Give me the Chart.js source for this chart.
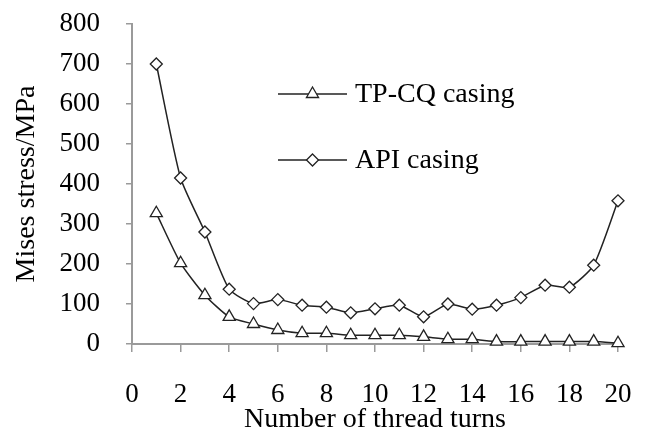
<!DOCTYPE html>
<html>
<head>
<meta charset="utf-8">
<script src="https://cdn.jsdelivr.net/npm/chart.js@4/dist/chart.umd.min.js"></script>
<style>
html,body{margin:0;padding:0;background:#fff;}
#wrap{width:645px;height:436px;position:relative;}
</style>
</head>
<body>
<div id="wrap"><canvas id="c" width="645" height="436"></canvas></div>
<script>
const turns = [1,2,3,4,5,6,7,8,9,10,11,12,13,14,15,16,17,18,19,20];
const tpcqStress = [327,202,122,68,50,35,27,27,22,22,22,18,12,12,6,6,6,6,6,2];
const apiStress = [700,415,280,137,101,111,97,92,78,88,97,68,100,87,97,116,147,142,197,358];
const seriesLabels = ['TP-CQ casing','API casing'];
const xTitle = 'Number of thread turns';
const yTitle = 'Mises stress/MPa';

const FONT = "'Liberation Serif','Times New Roman',serif";
const LINE = '#222';
const AXIS = '#9a9a9a';

const legendPlugin = {
  id: 'insideLegend',
  afterDatasetsDraw(chart, args, opts) {
    const ctx = chart.ctx;
    ctx.save();
    chart.data.datasets.forEach((ds, i) => {
      const y = opts.y[i];
      ctx.strokeStyle = LINE;
      ctx.lineWidth = 1.5;
      ctx.beginPath();
      ctx.moveTo(opts.x1, y); ctx.lineTo(opts.x2, y); ctx.stroke();
      const cx = (opts.x1 + opts.x2) / 2;
      ctx.fillStyle = '#fff';
      ctx.lineWidth = 1.3;
      ctx.beginPath();
      if (ds.pointStyle === 'triangle') {
        const r = ds.pointRadius, e = 3 * r / Math.sqrt(3), h = e * Math.sqrt(3) / 2;
        ctx.moveTo(cx - e / 2, y + h / 3);
        ctx.lineTo(cx + e / 2, y + h / 3);
        ctx.lineTo(cx, y - 2 * h / 3);
      } else {
        const r = ds.pointRadius;
        ctx.moveTo(cx, y - r); ctx.lineTo(cx + r, y); ctx.lineTo(cx, y + r); ctx.lineTo(cx - r, y);
      }
      ctx.closePath(); ctx.fill(); ctx.stroke();
      ctx.fillStyle = '#000';
      ctx.font = '28px ' + FONT;
      ctx.textBaseline = 'middle';
      ctx.textAlign = 'left';
      ctx.fillText(ds.label, opts.tx, y + 1);
    });
    ctx.restore();
  }
};

function mk(label, data, style, r) {
  return {
    label, data: turns.map((t, i) => ({x: t, y: data[i]})),
    borderColor: LINE, borderWidth: 1.5, tension: 0.2, clip: false,
    pointStyle: style, pointRadius: r, pointBorderWidth: 1.3,
    pointBackgroundColor: '#fff', pointBorderColor: LINE, fill: false
  };
}

new Chart(document.getElementById('c'), {
  type: 'line',
  data: { datasets: [mk(seriesLabels[0], tpcqStress, 'triangle', 7), mk(seriesLabels[1], apiStress, 'rectRot', 6)] },
  options: {
    responsive: false, animation: false, devicePixelRatio: 1,
    layout: { padding: { top: 24, right: 27, bottom: 0, left: 10 } },
    plugins: {
      legend: { display: false }, tooltip: { enabled: false },
      insideLegend: { x1: 278, x2: 347, tx: 355, y: [94, 160] }
    },
    scales: {
      x: {
        type: 'linear', min: 0, max: 20,
        ticks: { stepSize: 2, color: '#000', font: { family: FONT, size: 27 }, padding: 27, maxRotation: 0 },
        grid: { display: true, drawOnChartArea: false, drawTicks: true, tickLength: 8, color: AXIS, lineWidth: 1.5 },
        border: { display: true, color: AXIS, width: 2 },
        title: { display: true, text: xTitle, color: '#000', font: { family: FONT, size: 28 }, padding: { top: 0, bottom: 0 } },
        afterFit(s) { s.height = 92; s.paddingLeft = 0; s.paddingRight = 0; }
      },
      y: {
        min: 0, max: 800,
        ticks: { stepSize: 100, color: '#000', font: { family: FONT, size: 27 }, padding: 26 },
        grid: { display: true, drawOnChartArea: false, drawTicks: true, tickLength: 6, color: AXIS, lineWidth: 1.5 },
        border: { display: true, color: AXIS, width: 2 },
        title: { display: true, text: yTitle, color: '#000', font: { family: FONT, size: 28 }, padding: { top: 0, bottom: 0 } },
        afterFit(s) { s.width = 122; s.paddingTop = 0; s.paddingBottom = 0; }
      }
    }
  },
  plugins: [legendPlugin]
});
</script>
</body>
</html>
